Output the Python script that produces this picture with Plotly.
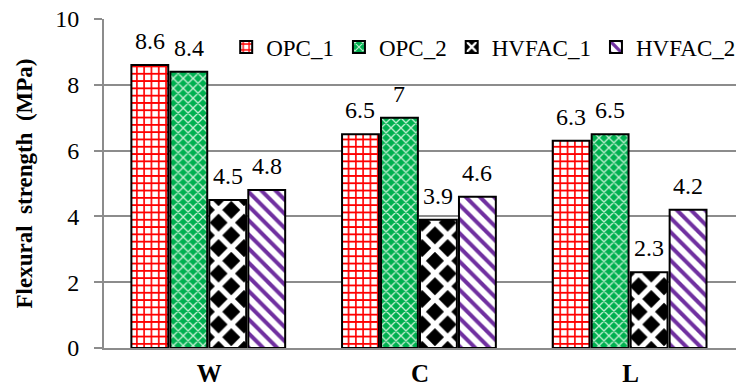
import plotly.graph_objects as go

# Flexural strength by exposure condition
categories = ["W", "C", "L"]
series_names = ["OPC_1", "OPC_2", "HVFAC_1", "HVFAC_2"]
opc_1 = [8.6, 6.5, 6.3]
opc_2 = [8.4, 7.0, 6.5]
hvfac_1 = [4.5, 3.9, 2.3]
hvfac_2 = [4.8, 4.6, 4.2]
series_values = [opc_1, opc_2, hvfac_1, hvfac_2]
y_ticks = [0, 2, 4, 6, 8, 10]

FONT = "Liberation Serif, serif"
GRID = "#8c8c8c"

# fill patterns for each series
patterns = [
    dict(shape="+", fgcolor="#ff0000", bgcolor="white", size=7.3, solidity=0.4, fillmode="replace"),
    dict(shape="x", fgcolor="#c4f0d4", bgcolor="#00b050", size=7, solidity=0.34, fillmode="replace"),
    dict(shape="x", fgcolor="white", bgcolor="black", size=18, solidity=0.5, fillmode="replace"),
    dict(shape="\\", fgcolor="#7030a0", bgcolor="white", size=10, solidity=0.4, fillmode="replace"),
]

# bar layout within each category slot
slot = 0.185
bar_w = 0.175
group_start = -0.37

x_idx = list(range(len(categories)))

fig = go.Figure()
for i, (name, vals, pat) in enumerate(zip(series_names, series_values, patterns)):
    off = group_start + i * slot
    fig.add_trace(go.Bar(
        name=name,
        x=x_idx,
        y=vals,
        offset=off,
        width=bar_w,
        marker=dict(color="white", pattern=pat, line=dict(color="black", width=2)),
    ))
    for xi, v in zip(x_idx, vals):
        label = f"{v:g}"
        fig.add_annotation(
            x=xi + off + bar_w / 2, y=v, text=label, showarrow=False,
            yanchor="bottom", yshift=9, font=dict(family=FONT, size=24, color="black"),
        )

fig.update_layout(
    width=749, height=390,
    margin=dict(l=104, r=13, t=19, b=42, autoexpand=False),
    paper_bgcolor="white", plot_bgcolor="white",
    barmode="overlay",
    showlegend=True,
    legend=dict(
        orientation="h", xref="container", yref="container",
        x=0.302, y=1 - 47 / 390, xanchor="left", yanchor="middle",
        font=dict(family=FONT, size=23, color="black"),
        bgcolor="rgba(0,0,0,0)", borderwidth=0, traceorder="normal",
    ),
    font=dict(family=FONT, color="black"),
)

fig.update_xaxes(
    range=[-0.5, len(categories) - 0.5],
    tickmode="array", tickvals=x_idx, ticktext=categories,
    showline=True, linecolor=GRID, linewidth=2,
    showgrid=False, ticks="", zeroline=False,
    tickfont=dict(family=FONT, size=25, color="black", weight="bold"),
    ticklabelstandoff=2,
)

fig.update_yaxes(
    range=[0, 10], tickmode="array", tickvals=y_ticks,
    showline=True, linecolor=GRID, linewidth=2,
    showgrid=True, gridcolor=GRID, gridwidth=2,
    ticks="outside", ticklen=8, tickcolor=GRID, tickwidth=2,
    zeroline=False,
    tickfont=dict(family=FONT, size=24, color="black"),
    ticklabelstandoff=10,
    title=dict(
        text="Flexural\u00a0\u00a0strength\u00a0\u00a0(MPa)",
        font=dict(family=FONT, size=23, color="black", weight="bold"),
        standoff=16,
    ),
)

fig.write_html("out.html")
